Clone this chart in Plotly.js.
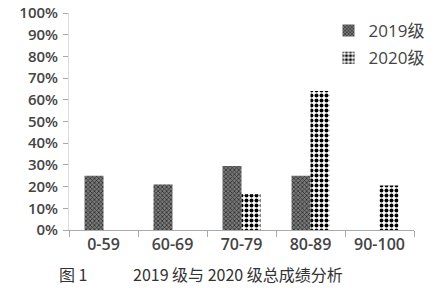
<!DOCTYPE html>
<html><head><meta charset="utf-8">
<script src="https://cdn.plot.ly/plotly-3.0.1.min.js"></script>
<style>html,body{margin:0;padding:0;background:#fff}#c{width:441px;height:288px}</style>
</head><body><div id="c"></div>
<script>
const categories = ["0-59", "60-69", "70-79", "80-89", "90-100"];
const series2019 = [0.25, 0.21, 0.295, 0.25, null];
const series2020 = [null, null, 0.165, 0.64, 0.205];
const seriesNames = ["2019级", "2020级"];
const yTicks = [0,0.1,0.2,0.3,0.4,0.5,0.6,0.7,0.8,0.9,1.0];
const yTickText = ["0%","10%","20%","30%","40%","50%","60%","70%","80%","90%","100%"];
const captionLabel = "图 1";
const captionText = "2019 级与 2020 级总成绩分析";

const traces = [
  {type:"bar", x:categories, y:series2019, name:seriesNames[0], legendgroup:"a",
   marker:{color:"#5a5a5a", line:{width:0},
     pattern:{shape:"x", fgcolor:"#222", bgcolor:"#7a7a7a", size:3, solidity:0.4}}},
  {type:"bar", x:categories, y:series2020, name:seriesNames[1], legendgroup:"b",
   marker:{color:"#fff", line:{width:0},
     pattern:{shape:".", fgcolor:"#000", bgcolor:"#fff", size:5, solidity:0.5}}}
];
const layout = {
  width:441, height:288,
  margin:{l:69, r:26, t:13, b:58},
  paper_bgcolor:"#fff", plot_bgcolor:"#fff",
  barmode:"group", bargap:0.45, bargroupgap:0,
  font:{family:"Open Sans, Liberation Sans, Noto Sans CJK SC, sans-serif", color:"#444"},
  xaxis:{type:"category", showgrid:false, zeroline:false, showline:true, linecolor:"#aaa", linewidth:1,
    ticks:"outside", tickson:"boundaries", ticklen:6, tickcolor:"#aaa",
    tickfont:{size:16, color:"#444", family:"Open Sans, sans-serif", weight:600}},
  yaxis:{range:[0,1], showgrid:false, zeroline:false, showline:true, linecolor:"#ddd",
    ticks:"outside", ticklen:5, tickcolor:"#aaa",
    tickvals:yTicks, ticktext:yTickText, ticklabelstandoff:2,
    tickfont:{size:15, color:"#444", family:"Open Sans, sans-serif", weight:600}},
  showlegend:true,
  legend:{x:0.75, y:1.0, xanchor:"left", yanchor:"top", bgcolor:"rgba(0,0,0,0)",
    traceorder:"grouped", tracegroupgap:2, itemwidth:30,
    font:{size:17, color:"#444", family:"Open Sans, Noto Sans CJK SC, sans-serif"}},
  annotations:[
    {text:captionLabel, xref:"paper", yref:"paper", x:-0.035, y:0, yshift:-44, xanchor:"left", yanchor:"middle",
     showarrow:false, font:{size:16, color:"#333", family:"Noto Sans CJK SC, serif"}},
    {text:captionText, xref:"paper", yref:"paper", x:0.18, y:0, yshift:-44, xanchor:"left", yanchor:"middle",
     showarrow:false, font:{size:16, color:"#333", family:"Noto Sans CJK SC, serif"}}
  ]
};
Plotly.newPlot("c", traces, layout, {displayModeBar:false, staticPlot:true});
</script></body></html>
